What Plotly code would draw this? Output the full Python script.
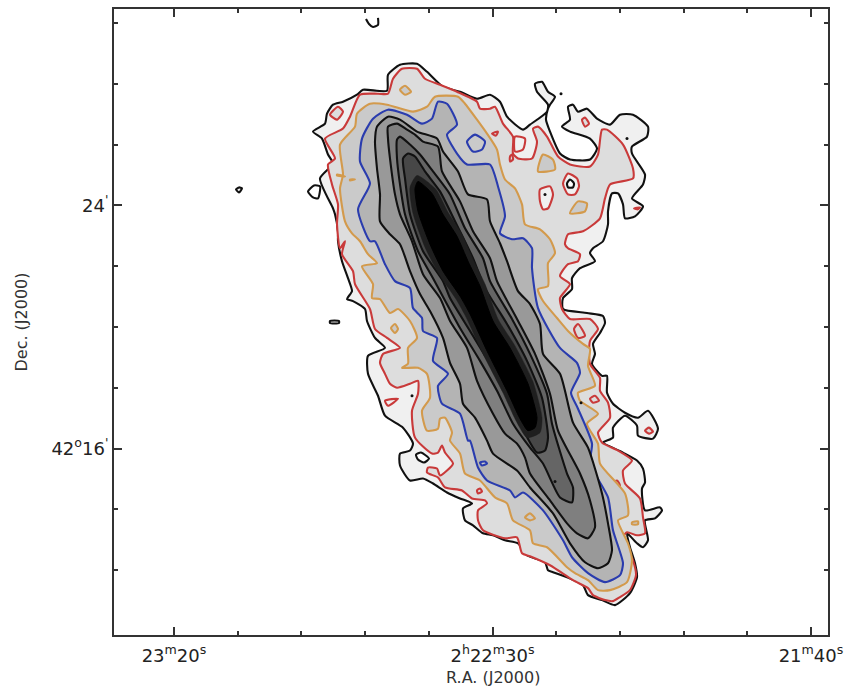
import plotly.graph_objects as go

outer = [(313,130),(325,122),(327,112),(333,103),(343,100),(357,93),(363,88),(387,89),(388,73),(400,63),(417,62),(427,70),(443,85),(460,90),(477,97),(490,93),(500,100),(507,115),(523,128),(530,123),(547,110),(548,103),(537,90),(535,82),(542,80),(548,90),(555,95),(550,103),(548,107),(546,118),(550,130),(560,152),(570,158),(590,158),(597,147),(590,137),(570,130),(562,125),(570,118),(568,105),(573,103),(578,110),(587,107),(597,117),(610,123),(620,113),(633,113),(648,125),(647,135),(632,145),(632,152),(645,173),(643,183),(632,197),(643,205),(635,215),(625,217),(623,203),(618,192),(612,192),(608,210),(608,223),(603,240),(593,247),(590,252),(595,260),(580,267),(572,277),(572,288),(563,297),(563,308),(587,312),(603,315),(605,322),(600,332),(593,343),(595,353),(592,363),(602,375),(607,375),(607,392),(613,403),(625,412),(638,417),(648,410),(658,428),(653,438),(638,435),(637,425),(625,415),(613,427),(613,437),(603,442),(623,452),(637,460),(643,468),(645,482),(642,488),(645,510),(660,507),(662,510),(655,518),(645,520),(648,540),(643,547),(637,543),(627,533),(630,547),(635,563),(637,577),(630,593),(615,605),(602,600),(588,595),(583,585),(567,577),(553,572),(548,570),(545,562),(527,555),(518,543),(505,540),(493,535),(483,533),(473,525),(465,520),(463,508),(472,503),(460,498),(447,492),(433,483),(423,478),(410,480),(400,465),(400,453),(410,450),(413,443),(403,427),(385,415),(378,395),(368,373),(368,355),(385,347),(375,337),(367,320),(365,308),(353,300),(347,298),(352,290),(348,277),(342,260),(338,240),(338,230),(335,213),(333,207),(320,177),(333,162),(328,153),(322,137)]
red = [(345,240),(340,247),(337,223),(338,203),(332,183),(328,163),(335,157),(325,137),(343,127),(350,115),(360,93),(378,92),(388,92),(393,77),(402,67),(417,67),(425,77),(440,83),(457,90),(477,100),(480,107),(490,107),(495,105),(503,122),(513,135),(513,152),(518,157),(532,157),(537,140),(533,127),(538,125),(547,135),(558,155),(570,163),(590,165),(598,153),(602,128),(607,128),(623,143),(633,167),(633,177),(610,183),(605,197),(600,217),(583,230),(568,233),(565,243),(568,247),(580,253),(578,260),(568,263),(560,275),(570,283),(560,297),(562,308),(570,318),(590,318),(598,328),(590,340),(590,363),(600,377),(600,390),(608,402),(610,417),(598,432),(602,442),(618,450),(632,460),(623,470),(625,483),(640,498),(643,517),(645,533),(637,535),(627,532),(623,537),(633,560),(636,575),(630,590),(620,597),(613,601),(605,600),(593,595),(588,588),(573,580),(550,565),(530,556),(522,553),(517,537),(505,538),(483,530),(478,520),(478,510),(487,503),(485,500),(472,498),(462,490),(445,487),(438,477),(427,472),(428,467),(437,468),(440,475),(453,463),(445,452),(442,445),(438,452),(432,453),(415,437),(412,410),(418,393),(418,380),(410,383),(397,387),(390,383),(385,373),(380,362),(383,353),(400,347),(387,337),(375,328),(370,308),(355,283),(353,270),(342,253)]
orange = [(360,240),(352,232),(345,220),(340,187),(343,173),(340,143),(355,125),(357,112),(370,102),(387,103),(413,110),(427,105),(435,95),(458,95),(465,102),(477,118),(487,132),(497,148),(500,163),(505,178),(515,187),(522,203),(525,223),(540,228),(550,238),(555,252),(548,262),(548,285),(538,288),(543,300),(557,317),(568,330),(583,343),(590,348),(588,365),(595,385),(578,392),(580,400),(598,413),(587,423),(598,443),(600,463),(625,493),(628,515),(618,520),(628,543),(632,560),(627,582),(610,590),(598,590),(588,580),(575,573),(567,567),(547,547),(533,543),(530,530),(513,520),(507,503),(495,497),(480,480),(465,473),(460,453),(450,440),(452,432),(445,417),(440,418),(438,428),(427,430),(422,410),(430,397),(427,373),(418,367),(402,367),(408,363),(408,347),(417,337),(410,320),(398,308),(390,312),(380,298),(372,297),(373,283),(362,265),(377,262),(368,253)]
blue = [(375,240),(370,240),(358,208),(370,182),(360,160),(362,137),(373,117),(388,108),(407,113),(422,122),(432,117),(438,100),(447,102),(457,123),(447,133),(457,152),(467,163),(490,163),(498,185),(505,215),(500,232),(512,238),(523,237),(532,247),(532,267),(538,307),(560,347),(577,362),(580,372),(571,392),(578,408),(592,443),(590,463),(608,497),(613,530),(623,563),(620,575),(605,582),(588,573),(572,557),(563,540),(543,510),(523,492),(515,497),(510,490),(487,480),(478,467),(470,440),(468,440),(460,413),(442,403),(438,385),(448,373),(433,360),(437,337),(423,330),(422,317),(413,307),(410,287),(395,280),(385,263)]
level_1 = [(375,140),(377,125),(388,115),(400,118),(417,130),(437,137),(443,150),(458,170),(468,193),(487,198),(490,220),(500,242),(507,260),(518,290),(530,303),(540,323),(543,353),(560,373),(573,422),(588,447),(602,493),(608,523),(612,550),(608,563),(598,568),(585,562),(570,543),(553,513),(530,487),(517,470),(493,453),(487,440),(475,417),(463,403),(460,383),(450,362),(443,337),(430,310),(420,293),(410,270),(400,243),(390,233),(380,220),(380,193),(377,167)]
level_2 = [(388,137),(388,125),(397,122),(407,128),(415,133),(423,140),(438,145),(442,170),(460,200),(473,230),(490,257),(497,280),(517,318),(535,353),(550,393),(558,430),(580,473),(590,500),(595,527),(588,538),(577,533),(567,523),(550,500),(530,473),(525,457),(517,443),(505,433),(493,413),(477,380),(467,347),(450,320),(440,297),(423,273),(412,240),(400,213),(395,193),(390,157)]
level_3 = [(397,138),(400,135),(410,143),(420,153),(433,170),(450,193),(465,227),(483,257),(490,280),(512,318),(530,353),(547,393),(552,423),(567,473),(573,487),(572,502),(560,497),(543,463),(530,447),(513,423),(497,390),(480,360),(460,327),(433,277),(418,250),(405,213),(400,183),(397,157)]
level_4 = [(403,157),(408,152),(415,155),(425,170),(440,190),(455,220),(473,257),(485,287),(507,323),(527,360),(542,397),(548,437),(545,450),(537,452),(520,423),(505,390),(490,363),(470,330),(450,297),(443,280),(423,250),(410,213),(405,177)]
level_5 = [(417,174),(436,188),(448,211),(462,233),(473,258),(485,283),(498,318),(515,345),(533,381),(542,417),(540,432),(527,437),(516,420),(503,392),(483,353),(466,316),(456,298),(439,273),(425,246),(413,212),(410,186)]
core = [(418,180),(432,192),(443,213),(457,235),(468,260),(480,285),(493,320),(510,347),(528,383),(537,417),(535,427),(528,430),(520,418),(507,390),(487,350),(470,313),(460,295),(443,270),(430,243),(418,210),(415,187)]

# Small closed contours
black_holes = [
    [(308,190),(314,184),(320,185),(318,197),(313,196)],
    [(416,454),(421,452),(429,458),(424,462),(418,459)],
    [(567,182),(570,178),(574,182),(573,186),(568,186)],
]
black_islands = [
    [(236,188),(239,186),(242,187),(239,191)],
    [(330,320),(339,320),(339,322),(330,322)],
]
black_open = [(366,17),(369,22),(373,25),(378,23),(378,16)]
black_dots = [(561,92),(627,137),(545,193),(412,395),(581,402),(555,481)]
red_holes = [
    [(515,135),(525,137),(523,148),(515,150)],
    [(540,188),(550,185),(553,193),(548,207),(543,208),(540,200)],
    [(563,182),(568,172),(577,177),(579,185),(575,193),(568,193)],
    [(385,400),(398,398),(388,405)],
]
red_islands = [
    [(330,113),(338,105),(343,110),(337,118)],
    [(492,132),(498,130),(496,134)],
    [(582,118),(585,116),(589,122),(585,125)],
    [(510,155),(512,153),(513,158),(510,160)],
    [(634,207),(640,206),(638,208)],
    [(574,328),(578,323),(585,335),(578,337)],
    [(590,398),(595,395),(599,400),(593,402)],
    [(645,430),(649,427),(653,431),(649,433)],
    [(477,490),(480,488),(482,491),(478,493)],
    [(613,482),(617,480),(620,485),(616,487)],
]
orange_loops = [
    [(400,88),(405,84),(411,90),(405,93)],
    [(538,170),(543,153),(553,158),(555,168)],
    [(570,212),(578,200),(587,202),(585,210)],
    [(391,327),(395,323),(398,328),(395,332)],
    [(525,517),(530,513),(535,518),(530,520)],
    [(632,522),(638,521),(638,524),(632,524)],
    [(337,173),(345,175),(337,174)],
    [(350,178),(355,178),(350,179)],
]
blue_loops = [
    [(467,140),(475,133),(485,140),(482,148),(473,150)],
    [(480,462),(485,461),(487,463),(482,465)],
]

# Sky scale of the map grid
COL_23M20S, ROW_24, PX_PER_SEC, PX_PER_ARCMIN = 174.0, 204.0, 6.37, 30.5
def ra(c): return 140 - (c - COL_23M20S) / PX_PER_SEC
def dec(r): return 24 - (r - ROW_24) / PX_PER_ARCMIN

ra_major = [140, 90, 40]
ra_major_text = ["23<sup>m</sup>20<sup>s</sup>", "2<sup>h</sup>22<sup>m</sup>30<sup>s</sup>", "21<sup>m</sup>40<sup>s</sup>"]
ra_minor = [130, 120, 110, 100, 80, 70, 60, 50]
dec_major = [24, 16]
dec_major_text = ["24<sup>'</sup>", "42<sup>o</sup>16<sup>'</sup>"]
dec_minor = [30, 28, 26, 22, 20, 18, 14, 12]

WHITE, G0, G1, G2, G3, G4, G5, G6, G7, G8 = "#ffffff", "#f0f0f0", "#dddddd", "#cacaca", "#b4b4b4", "#999999", "#7f7f7f", "#656565", "#474747", "#1f1f1f"
BLACK, RED, ORANGE, BLUE = "#111111", "#c93a3a", "#d39a4c", "#2a3cae"

fig = go.Figure()
def add(points, fill, color, width=2.1, closed=True):
    pts = list(points) + ([points[0]] if closed else [])
    fig.add_trace(go.Scatter(
        x=[ra(p[0]) for p in pts], y=[dec(p[1]) for p in pts], mode="lines",
        line=dict(color=color, width=width, shape="spline", smoothing=0.6),
        fill="toself" if fill else "none", fillcolor=fill, hoverinfo="skip"))

add(outer, G0, BLACK)
for l in black_holes: add(l, WHITE, BLACK)
for l in black_islands: add(l, G0, BLACK)
add(black_open, None, BLACK, closed=False)
add(red, G1, RED)
for l in red_holes: add(l, G0, RED)
for l in red_islands: add(l, G1, RED)
add(black_holes[2], WHITE, BLACK)
add(orange, G2, ORANGE)
for l in orange_loops: add(l, G2, ORANGE)
add(blue, G3, BLUE)
for l in blue_loops: add(l, G2, BLUE)
add(level_1, G4, BLACK)
add(level_2, G5, BLACK)
add(level_3, G6, BLACK)
add(level_4, G7, BLACK)
add(level_5, G8, G8, width=0.5)
add(core, "#000000", "#000000", width=1)
fig.add_trace(go.Scatter(x=[ra(p[0]) for p in black_dots], y=[dec(p[1]) for p in black_dots],
                         mode="markers", marker=dict(color=BLACK, size=3), hoverinfo="skip"))

FONT = "DejaVu Sans"
axis_common = dict(showgrid=False, zeroline=False, showline=True, linecolor="#333333", linewidth=2,
                   mirror="allticks", ticks="inside", ticklen=8, tickwidth=1.5, tickcolor="#333333",
                   tickfont=dict(family=FONT, size=18, color="#222222"))
fig.update_layout(
    width=854, height=692, margin=dict(l=114, r=26, t=7, b=57),
    paper_bgcolor="white", plot_bgcolor="white", showlegend=False,
    xaxis=dict(range=[ra(114), ra(828)], tickmode="array", tickvals=ra_major, ticktext=ra_major_text,
               ticklabelstandoff=3,
               minor=dict(tickmode="array", tickvals=ra_minor, ticks="inside", ticklen=4, tickcolor="#333333", tickwidth=1.5),
               **axis_common),
    yaxis=dict(range=[dec(635), dec(7)], tickmode="array", tickvals=dec_major, ticktext=dec_major_text,
               minor=dict(tickmode="array", tickvals=dec_minor, ticks="inside", ticklen=4, tickcolor="#333333", tickwidth=1.5),
               title=dict(text="Dec. (J2000)", font=dict(family=FONT, size=16, color="#333333"), standoff=20),
               **axis_common),
    annotations=[dict(text="R.A. (J2000)", x=90, xref="x", y=0, yref="paper", yanchor="middle", yshift=-42,
                      showarrow=False, font=dict(family=FONT, size=16, color="#333333"))],
)
fig.write_html("out.html", post_script="document.body.style.margin='0';", config={"displayModeBar": False})
